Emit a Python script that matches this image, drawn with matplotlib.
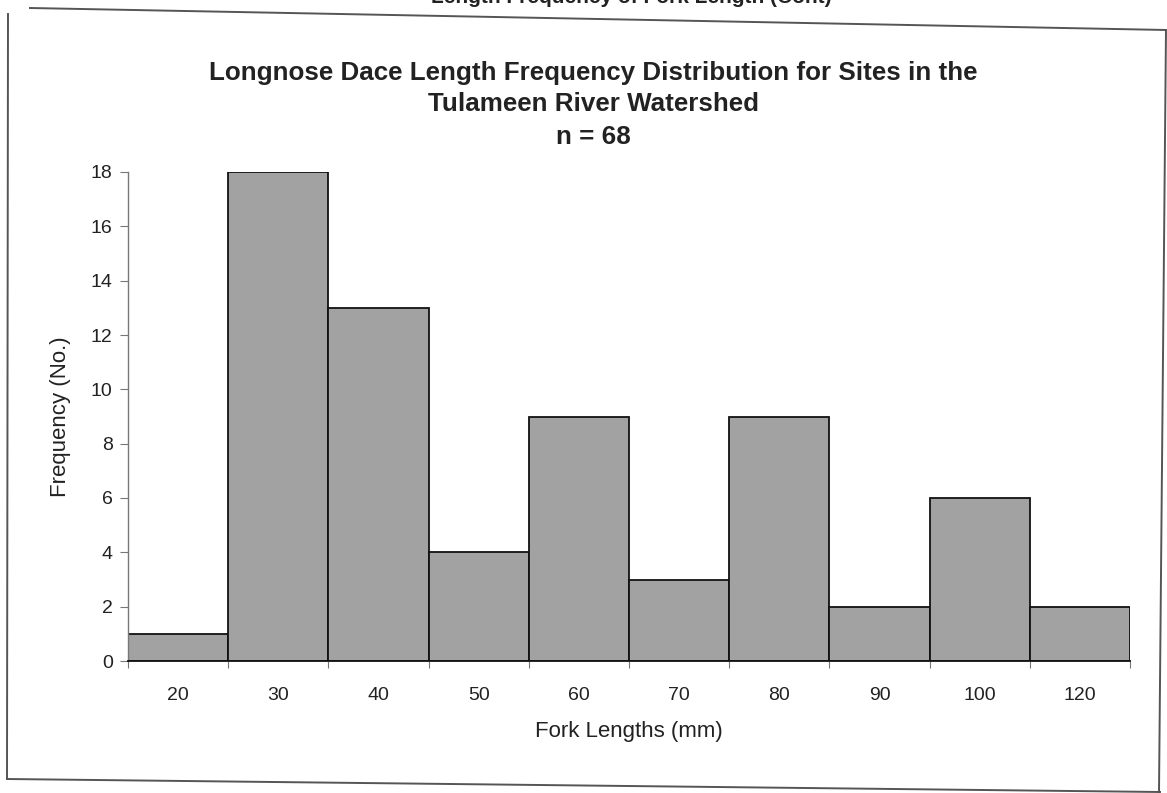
import matplotlib
matplotlib.use('Agg')
import matplotlib.pyplot as plt
from matplotlib.lines import Line2D

plt.rcParams['font.family'] = ['Liberation Sans', 'DejaVu Sans']

# fork length classes (mm) and fish counts
lengths = ['20', '30', '40', '50', '60', '70', '80', '90', '100', '120']
counts = [1, 18, 13, 4, 9, 3, 9, 2, 6, 2]

W, H = 1167, 793
fig = plt.figure(figsize=(W / 100, H / 100), dpi=100)

def px(x, y):
    return x / W, 1 - y / H

# page border around the figure
border = [((30, 8), (1167, 30)), ((8, 14), (7, 779)),
          ((7, 779), (1160, 792)), ((1166, 30), (1159, 792))]
for (x0, y0), (x1, y1) in border:
    a, b = px(x0, y0)
    c, d = px(x1, y1)
    fig.add_artist(Line2D([a, c], [b, d], color='#555555', lw=1.4))

# caption of the page above, running off the top edge
fig.text(*px(832, 3), 'Length Frequency of Fork Length (Cont)', ha='right', va='baseline',
         fontsize=15, fontweight='bold', color='#222222')

ax = fig.add_axes([128 / W, 1 - 661 / H, (1130 - 128) / W, (661 - 172) / H])
x = list(range(len(lengths)))
ax.bar(x, counts, width=1.0, color='#a2a2a2', edgecolor='#111111', linewidth=1.3)

ax.set_xlim(-0.5, len(lengths) - 0.5)
ax.set_ylim(0, 18)
ax.set_yticks(range(0, 19, 2))

# ticks at the class boundaries, labels in the middle of each class
ax.set_xticks([i - 0.5 for i in range(len(lengths) + 1)])
ax.set_xticklabels([])
ax.set_xticks(x, minor=True)
ax.set_xticklabels(lengths, minor=True)
ax.tick_params(axis='x', which='major', length=5, color='#777777', direction='out')
ax.tick_params(axis='x', which='minor', length=0, pad=19, labelsize=14, labelcolor='#222222')
ax.tick_params(axis='y', length=6, color='#777777', pad=5, labelsize=14, labelcolor='#222222')

for s in ['top', 'right']:
    ax.spines[s].set_visible(False)
ax.spines['left'].set_color('#777777')
ax.spines['left'].set_linewidth(1.0)
ax.spines['bottom'].set_color('#111111')
ax.spines['bottom'].set_linewidth(1.3)

ax.set_xlabel('Fork Lengths (mm)', fontsize=16, color='#222222', labelpad=12)
ax.set_ylabel('Frequency (No.)', fontsize=16, color='#222222', labelpad=14)

title_kw = dict(ha='center', va='center', fontsize=18.7, fontweight='bold', color='#222222')
fig.text(*px(593, 73), 'Longnose Dace Length Frequency Distribution for Sites in the', **title_kw)
fig.text(*px(593, 104), 'Tulameen River Watershed', **title_kw)
fig.text(*px(593, 137), 'n = 68', **title_kw)

fig.savefig('out.png', dpi=100)
